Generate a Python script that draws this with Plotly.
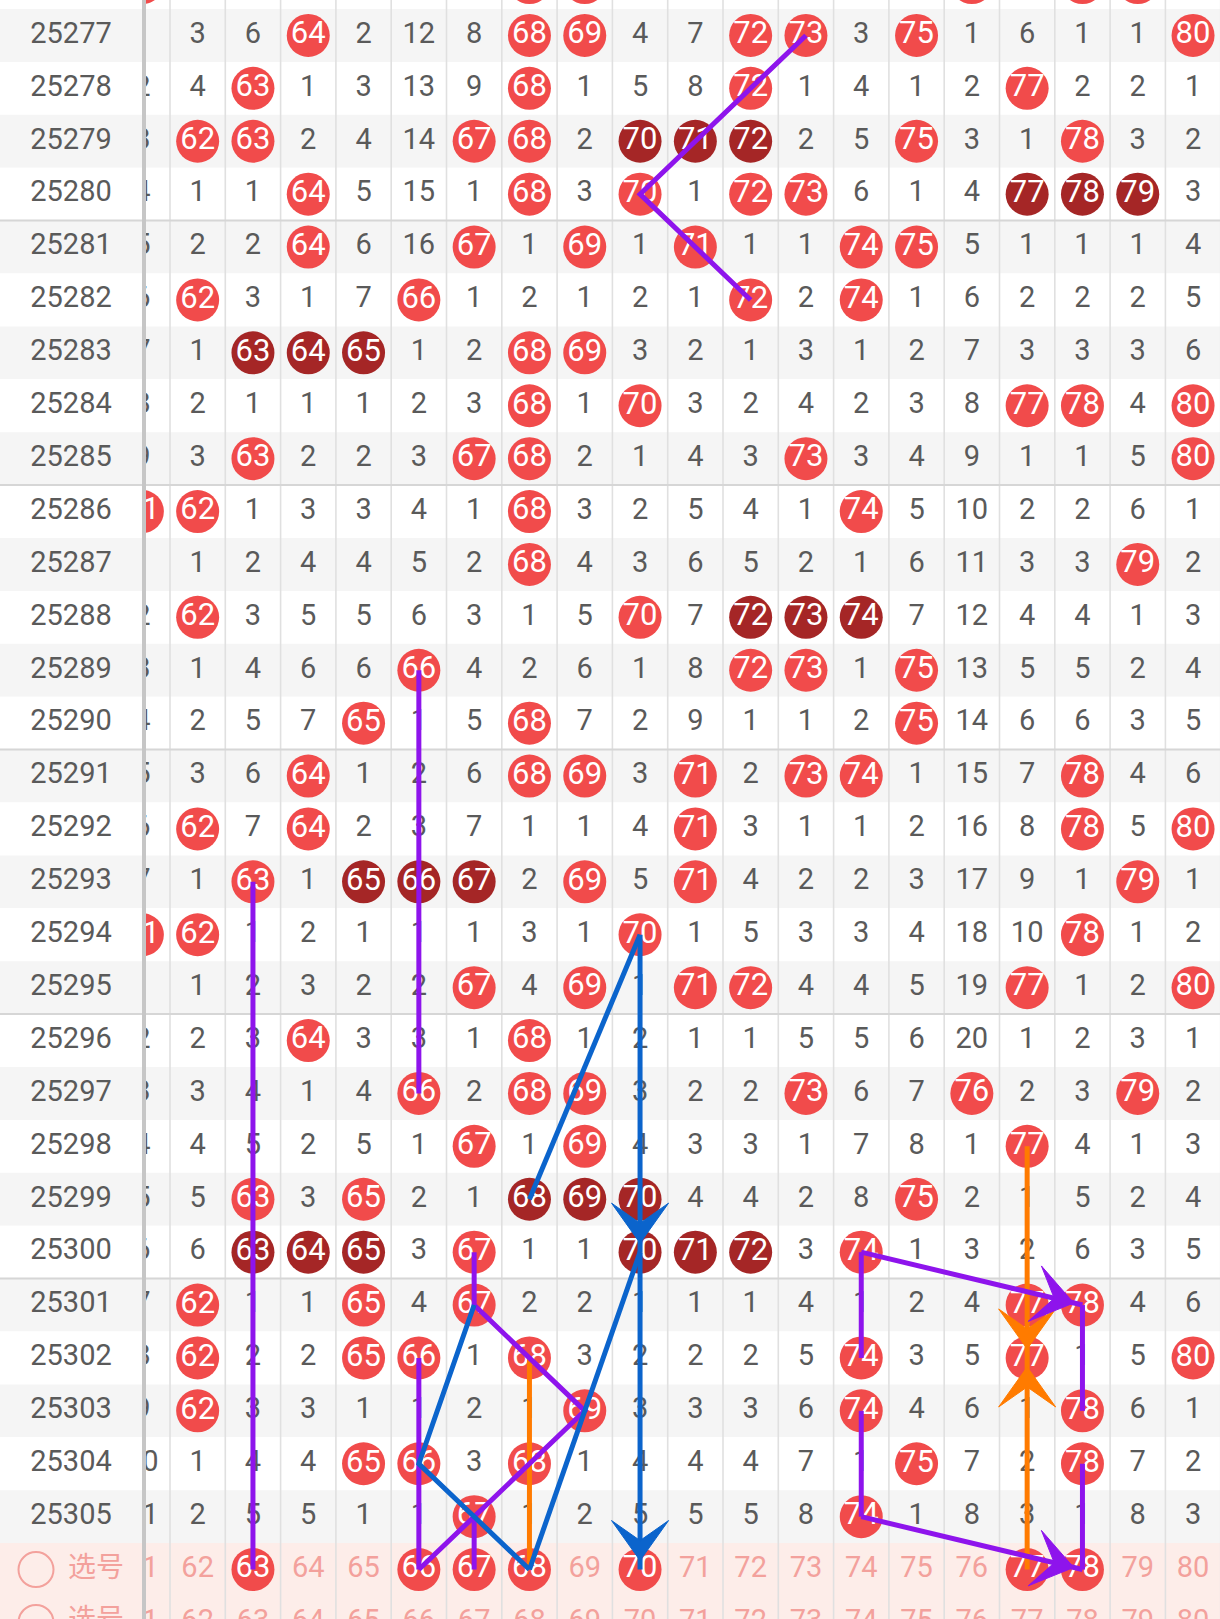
import plotly.graph_objects as go

# ---------------- data ----------------
periods = [25277, 25278, 25279, 25280, 25281, 25282, 25283, 25284, 25285, 25286,
           25287, 25288, 25289, 25290, 25291, 25292, 25293, 25294, 25295, 25296,
           25297, 25298, 25299, 25300, 25301, 25302, 25303, 25304, 25305]
numbers = [61, 62, 63, 64, 65, 66, 67, 68, 69, 70, 71, 72, 73, 74, 75, 76, 77, 78, 79, 80]

# omission values per period for numbers 61..80 (0 = drawn in that period)
omission = [
    [1, 3, 6, 0, 2, 12, 8, 0, 0, 4, 7, 0, 0, 3, 0, 1, 6, 1, 1, 0],
    [2, 4, 0, 1, 3, 13, 9, 0, 1, 5, 8, 0, 1, 4, 1, 2, 0, 2, 2, 1],
    [3, 0, 0, 2, 4, 14, 0, 0, 2, 0, 0, 0, 2, 5, 0, 3, 1, 0, 3, 2],
    [4, 1, 1, 0, 5, 15, 1, 0, 3, 0, 1, 0, 0, 6, 1, 4, 0, 0, 0, 3],
    [5, 2, 2, 0, 6, 16, 0, 1, 0, 1, 0, 1, 1, 0, 0, 5, 1, 1, 1, 4],
    [6, 0, 3, 1, 7, 0, 1, 2, 1, 2, 1, 0, 2, 0, 1, 6, 2, 2, 2, 5],
    [7, 1, 0, 0, 0, 1, 2, 0, 0, 3, 2, 1, 3, 1, 2, 7, 3, 3, 3, 6],
    [8, 2, 1, 1, 1, 2, 3, 0, 1, 0, 3, 2, 4, 2, 3, 8, 0, 0, 4, 0],
    [9, 3, 0, 2, 2, 3, 0, 0, 2, 1, 4, 3, 0, 3, 4, 9, 1, 1, 5, 0],
    [0, 0, 1, 3, 3, 4, 1, 0, 3, 2, 5, 4, 1, 0, 5, 10, 2, 2, 6, 1],
    [1, 1, 2, 4, 4, 5, 2, 0, 4, 3, 6, 5, 2, 1, 6, 11, 3, 3, 0, 2],
    [2, 0, 3, 5, 5, 6, 3, 1, 5, 0, 7, 0, 0, 0, 7, 12, 4, 4, 1, 3],
    [3, 1, 4, 6, 6, 0, 4, 2, 6, 1, 8, 0, 0, 1, 0, 13, 5, 5, 2, 4],
    [4, 2, 5, 7, 0, 1, 5, 0, 7, 2, 9, 1, 1, 2, 0, 14, 6, 6, 3, 5],
    [5, 3, 6, 0, 1, 2, 6, 0, 0, 3, 0, 2, 0, 0, 1, 15, 7, 0, 4, 6],
    [6, 0, 7, 0, 2, 3, 7, 1, 1, 4, 0, 3, 1, 1, 2, 16, 8, 0, 5, 0],
    [7, 1, 0, 1, 0, 0, 0, 2, 0, 5, 0, 4, 2, 2, 3, 17, 9, 1, 0, 1],
    [0, 0, 1, 2, 1, 1, 1, 3, 1, 0, 1, 5, 3, 3, 4, 18, 10, 0, 1, 2],
    [1, 1, 2, 3, 2, 2, 0, 4, 0, 1, 0, 0, 4, 4, 5, 19, 0, 1, 2, 0],
    [2, 2, 3, 0, 3, 3, 1, 0, 1, 2, 1, 1, 5, 5, 6, 20, 1, 2, 3, 1],
    [3, 3, 4, 1, 4, 0, 2, 0, 0, 3, 2, 2, 0, 6, 7, 0, 2, 3, 0, 2],
    [4, 4, 5, 2, 5, 1, 0, 1, 0, 4, 3, 3, 1, 7, 8, 1, 0, 4, 1, 3],
    [5, 5, 0, 3, 0, 2, 1, 0, 0, 0, 4, 4, 2, 8, 0, 2, 1, 5, 2, 4],
    [6, 6, 0, 0, 0, 3, 0, 1, 1, 0, 0, 0, 3, 0, 1, 3, 2, 6, 3, 5],
    [7, 0, 1, 1, 0, 4, 0, 2, 2, 1, 1, 1, 4, 1, 2, 4, 0, 0, 4, 6],
    [8, 0, 2, 2, 0, 0, 1, 0, 3, 2, 2, 2, 5, 0, 3, 5, 0, 1, 5, 0],
    [9, 0, 3, 3, 1, 1, 2, 1, 0, 3, 3, 3, 6, 0, 4, 6, 1, 0, 6, 1],
    [10, 1, 4, 4, 0, 0, 3, 0, 1, 4, 4, 4, 7, 1, 0, 7, 2, 0, 7, 2],
    [11, 2, 5, 5, 1, 1, 0, 1, 2, 5, 5, 5, 8, 0, 1, 8, 3, 1, 8, 3],
]
prev_period_hits = [61, 68, 69, 76, 78, 79]      # period 25276, only its bottom edge is visible
selected = [63, 66, 67, 68, 70, 77, 78]          # "选号" row
select_label = "选号"

# drawn trend lines: (number, period-or-"选号") points
SEL = "选号"
purple_paths = [
    [(73, 25277), (70, 25280), (72, 25282)],
    [(66, 25289), (66, 25297)],
    [(63, 25293), (63, SEL)],
    [(67, 25300), (67, 25301), (69, 25303), (66, SEL)],
    [(66, 25302), (66, SEL)],
    [(67, 25305), (67, SEL)],
    [(74, 25300), (74, 25302)],
    [(78, 25301), (78, 25303)],
    [(74, 25303), (74, 25305)],
    [(78, 25304), (78, SEL)],
]
purple_arrows = [[(74, 25300), (78, 25301)], [(74, 25305), (78, SEL)]]
blue_paths = [
    [(68, 25299), (70, 25294)],
    [(68, SEL), (70, 25300)],
    [(67, 25301), (66, 25304), (68, SEL)],
]
blue_arrows = [[(70, 25294), (70, 25300)], [(70, 25300), (70, SEL)]]
orange_paths = [[(68, 25302), (68, SEL)]]
orange_arrows = [[(77, 25298), (77, 25302)], [(77, SEL), (77, 25302)]]

# ---------------- styling / geometry ----------------
W, H = 1220, 1619
LABEL_W = 146
COL_W = 55.3
ROW_H = 52.9
TOP = 9
C62 = 197.65
FONT = "Roboto"
RED = "#F14B4B"
DARK = "#A52626"
GRAY_TXT = "#5A5A5A"
PINK_TXT = "#F3A19C"
PINK_BG = "#FDEDE9"
ROW_GRAY = "#F5F5F5"
PURPLE = "#8E14EC"
BLUE = "#0B64CC"
ORANGE = "#FF7B00"
LW = 5

x_lo = 62 + (LABEL_W - C62) / COL_W
x_hi = 62 + (W - C62) / COL_W
y_top = -0.5 - TOP / ROW_H
y_bot = (H - TOP) / ROW_H - 0.5
SEL_R = len(periods)


def rowidx(p):
    return SEL_R if p == SEL else periods.index(p)


fig = go.Figure()

# ---- cells ----
tx, ty, tt = [], [], []
bx, by, bt = [], [], []
kx, ky, kt = [], [], []
for r, row in enumerate(omission):
    hits = {c for c, v in zip(numbers, row) if v == 0}
    for c, v in zip(numbers, row):
        if v != 0:
            tx.append(c); ty.append(r); tt.append(str(v))
        else:
            dark = ({c - 1, c, c + 1} <= hits) or ({c - 2, c - 1, c} <= hits) or ({c, c + 1, c + 2} <= hits)
            if dark:
                kx.append(c); ky.append(r); kt.append(str(c))
            else:
                bx.append(c); by.append(r); bt.append(str(c))
for c in prev_period_hits:
    bx.append(c); by.append(-1); bt.append("")

# selection rows
px_, py_, pt_ = [], [], []
for c in numbers:
    if c in selected:
        bx.append(c); by.append(SEL_R); bt.append(str(c))
    else:
        px_.append(c); py_.append(SEL_R); pt_.append(str(c))
    px_.append(c); py_.append(SEL_R + 1); pt_.append(str(c))

fig.add_trace(go.Scatter(x=tx, y=ty, text=tt, mode="text", textposition="middle center",
                         textfont=dict(family=FONT, size=29, color=GRAY_TXT), hoverinfo="skip"))
fig.add_trace(go.Scatter(x=px_, y=py_, text=pt_, mode="text", textposition="middle center",
                         textfont=dict(family=FONT, size=29, color=PINK_TXT), hoverinfo="skip"))
fig.add_trace(go.Scatter(x=bx, y=by, text=bt, mode="markers+text", textposition="middle center",
                         marker=dict(size=43, color=RED, line=dict(width=0)),
                         textfont=dict(family=FONT, size=31, color="white"), hoverinfo="skip"))
fig.add_trace(go.Scatter(x=kx, y=ky, text=kt, mode="markers+text", textposition="middle center",
                         marker=dict(size=43, color=DARK, line=dict(width=0)),
                         textfont=dict(family=FONT, size=31, color="white"), hoverinfo="skip"))

# ---- label column (own axis, pixel units) ----
fig.add_trace(go.Scatter(x=[71] * len(periods), y=list(range(len(periods))), text=[str(p) for p in periods],
                         mode="text", textposition="middle center", xaxis="x2", yaxis="y",
                         textfont=dict(family=FONT, size=29, color=GRAY_TXT), hoverinfo="skip"))
fig.add_trace(go.Scatter(x=[36, 36], y=[SEL_R, SEL_R + 1], mode="markers", xaxis="x2", yaxis="y",
                         marker=dict(symbol="circle-open", size=35, color=PINK_TXT, line=dict(width=2, color=PINK_TXT)),
                         hoverinfo="skip"))
fig.add_trace(go.Scatter(x=[96, 96], y=[SEL_R, SEL_R + 1], text=[select_label, select_label], mode="text",
                         textposition="middle center", xaxis="x2", yaxis="y",
                         textfont=dict(family="Noto Sans CJK SC", size=28, color=PINK_TXT), hoverinfo="skip"))

shapes = []
# row backgrounds
for r in range(-1, SEL_R + 2):
    if r >= SEL_R:
        col = PINK_BG
    elif r % 2 == 0:
        col = ROW_GRAY
    else:
        col = "white"
    shapes.append(dict(type="rect", xref="paper", yref="y", x0=0, x1=1, y0=r - 0.5, y1=r + 0.5,
                       fillcolor=col, line=dict(width=0), layer="below"))
# vertical grid lines
for c in numbers:
    shapes.append(dict(type="line", xref="x", yref="paper", x0=c + 0.5, x1=c + 0.5, y0=0, y1=1,
                       line=dict(color="#E0E0E0", width=1.6), layer="below"))
# group separators every 5 periods
for r, p in enumerate(periods):
    if p % 5 == 0 and r < SEL_R - 1:
        shapes.append(dict(type="line", xref="paper", yref="y", x0=0, x1=1, y0=r + 0.5, y1=r + 0.5,
                           line=dict(color="#D6D6D6", width=2), layer="below"))
# label column border
shapes.append(dict(type="line", xref="paper", yref="paper", x0=144 / W, x1=144 / W, y0=0, y1=1,
                   line=dict(color="#C6C6C6", width=4), layer="above"))


def pts(seq):
    return [(c, rowidx(p)) for c, p in seq]


def path_d(seq):
    p = pts(seq)
    return "M " + " L ".join(f"{x},{y}" for x, y in p)


def add_paths(paths, color):
    for seq in paths:
        shapes.append(dict(type="path", xref="x", yref="y", path=path_d(seq),
                           line=dict(color=color, width=LW), layer="above"))


def add_arrow(seq, color):
    add_paths([seq], color)
    (x0, y0), (x1, y1) = pts(seq)
    dxp, dyp = (x1 - x0) * COL_W, (y1 - y0) * ROW_H
    L = (dxp ** 2 + dyp ** 2) ** 0.5
    ux, uy = dxp / L, dyp / L
    nx, ny = -uy, ux
    def to_d(ox, oy):
        return x1 + ox / COL_W, y1 + oy / ROW_H
    tip = to_d(-9 * ux, -9 * uy)
    notch = to_d(-29 * ux, -29 * uy)
    w1 = to_d(-49 * ux + 28.5 * nx, -49 * uy + 28.5 * ny)
    w2 = to_d(-49 * ux - 28.5 * nx, -49 * uy - 28.5 * ny)
    d = f"M {tip[0]},{tip[1]} L {w1[0]},{w1[1]} L {notch[0]},{notch[1]} L {w2[0]},{w2[1]} Z"
    shapes.append(dict(type="path", xref="x", yref="y", path=d, fillcolor=color,
                       line=dict(color=color, width=1), layer="above"))


add_paths(orange_paths, ORANGE)
for a in orange_arrows:
    add_arrow(a, ORANGE)
add_paths(purple_paths, PURPLE)
for a in purple_arrows:
    add_arrow(a, PURPLE)
add_paths(blue_paths, BLUE)
for a in blue_arrows:
    add_arrow(a, BLUE)

fig.update_layout(
    width=W, height=H, margin=dict(l=0, r=0, t=0, b=0),
    paper_bgcolor="white", plot_bgcolor="white", showlegend=False,
    xaxis=dict(domain=[LABEL_W / W, 1], range=[x_lo, x_hi], visible=False, fixedrange=True),
    xaxis2=dict(domain=[0, LABEL_W / W], range=[0, LABEL_W], visible=False, anchor="y", fixedrange=True),
    yaxis=dict(domain=[0, 1], range=[y_bot, y_top], visible=False, fixedrange=True),
    shapes=shapes,
)

fig.write_html("out.html", config={"displayModeBar": False},
               post_script="document.body.style.margin='0';document.body.style.overflow='hidden';")
